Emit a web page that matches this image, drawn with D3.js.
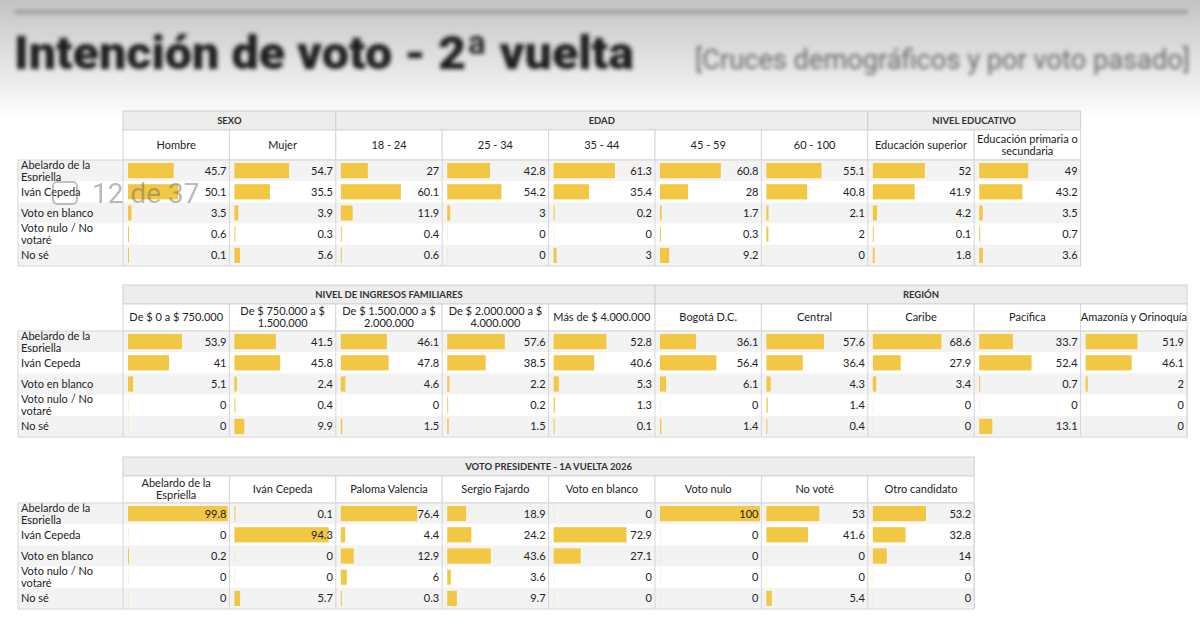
<!DOCTYPE html>
<html><head><meta charset="utf-8">
<script src="https://cdn.jsdelivr.net/npm/d3@7"></script>
<style>
body{margin:0;background:#fff;font-family:Lato,"Open Sans",sans-serif;}
</style></head><body>
<svg id="c" width="1200" height="629"></svg>
<script>
const rows = ["Abelardo de la|Espriella", "Iván Cepeda", "Voto en blanco", "Voto nulo / No|votaré", "No sé"];

const groups1 = [["SEXO", 2], ["EDAD", 5], ["NIVEL EDUCATIVO", 2]];
const cols1 = ["Hombre", "Mujer", "18 - 24", "25 - 34", "35 - 44", "45 - 59", "60 - 100", "Educación superior", "Educación primaria o|secundaria"];
const vals1 = [
  [45.7, 54.7, 27, 42.8, 61.3, 60.8, 55.1, 52, 49],
  [50.1, 35.5, 60.1, 54.2, 35.4, 28, 40.8, 41.9, 43.2],
  [3.5, 3.9, 11.9, 3, 0.2, 1.7, 2.1, 4.2, 3.5],
  [0.6, 0.3, 0.4, 0, 0, 0.3, 2, 0.1, 0.7],
  [0.1, 5.6, 0.6, 0, 3, 9.2, 0, 1.8, 3.6]
];

const groups2 = [["NIVEL DE INGRESOS FAMILIARES", 5], ["REGIÓN", 5]];
const cols2 = ["De $ 0 a $ 750.000", "De $ 750.000 a $|1.500.000", "De $ 1.500.000 a $|2.000.000", "De $ 2.000.000 a $|4.000.000", "Más de $ 4.000.000", "Bogotá D.C.", "Central", "Caribe", "Pacífica", "Amazonía y Orinoquía"];
const vals2 = [
  [53.9, 41.5, 46.1, 57.6, 52.8, 36.1, 57.6, 68.6, 33.7, 51.9],
  [41, 45.8, 47.8, 38.5, 40.6, 56.4, 36.4, 27.9, 52.4, 46.1],
  [5.1, 2.4, 4.6, 2.2, 5.3, 6.1, 4.3, 3.4, 0.7, 2],
  [0, 0.4, 0, 0.2, 1.3, 0, 1.4, 0, 0, 0],
  [0, 9.9, 1.5, 1.5, 0.1, 1.4, 0.4, 0, 13.1, 0]
];

const groups3 = [["VOTO PRESIDENTE - 1A VUELTA 2026", 8]];
const cols3 = ["Abelardo de la|Espriella", "Iván Cepeda", "Paloma Valencia", "Sergio Fajardo", "Voto en blanco", "Voto nulo", "No voté", "Otro candidato"];
const vals3 = [
  [99.8, 0.1, 76.4, 18.9, 0, 100, 53, 53.2],
  [0, 94.3, 4.4, 24.2, 72.9, 0, 41.6, 32.8],
  [0.2, 0, 12.9, 43.6, 27.1, 0, 0, 14],
  [0, 0, 6, 3.6, 0, 0, 0, 0],
  [0, 5.7, 0.3, 9.7, 0, 0, 5.4, 0]
];

const svg = d3.select("#c");
const defs = svg.append("defs");
const g0 = defs.append("linearGradient").attr("id", "bg").attr("x1", 0).attr("y1", 0).attr("x2", 0).attr("y2", 1);
g0.append("stop").attr("offset", 0).attr("stop-color", "#c4c4c4");
g0.append("stop").attr("offset", 1).attr("stop-color", "#ffffff");
defs.append("filter").attr("id", "blur").append("feGaussianBlur").attr("stdDeviation", 2.2);

svg.append("rect").attr("width", 1200).attr("height", 120).attr("fill", "url(#bg)");
const head = svg.append("g").attr("filter", "url(#blur)");
head.append("line").attr("x1", 15).attr("x2", 1188).attr("y1", 12).attr("y2", 12).attr("stroke", "#8a8a8a").attr("stroke-width", 3);
head.append("text").attr("x", 14).attr("y", 69).attr("font-family", "Roboto, sans-serif").attr("font-weight", 900)
  .attr("font-size", 47).attr("fill", "#1a1a1a").attr("textLength", 620).attr("lengthAdjust", "spacingAndGlyphs")
  .text("Intención de voto - 2ª vuelta");
head.append("text").attr("x", 695).attr("y", 69).attr("font-size", 27)
  .attr("fill", "#666").attr("font-family", "Roboto, sans-serif").attr("textLength", 495).attr("lengthAdjust", "spacingAndGlyphs")
  .text("[Cruces demográficos y por voto pasado]");

const colW = 106.4, labX = 18, tabX = 123;
const x = d3.scaleLinear().domain([0, 100]).range([0, 100]);

function lines(sel, txt, xx, yc, anchor, size) {
  const parts = txt.split("|");
  const lh = size + 1;
  parts.forEach((p, i) => {
    sel.append("text").attr("x", xx).attr("y", yc + (i - (parts.length - 1) / 2) * lh + size * 0.36)
      .attr("text-anchor", anchor).attr("font-size", size).attr("fill", "#222").text(p);
  });
}

function table(top, groups, cols, vals, subH) {
  const g = svg.append("g");
  const n = cols.length, right = tabX + n * colW;
  const hH = 19, rowH = 21.2;
  const rowTop = top + hH + subH;
  let c = 0;
  groups.forEach(([name, k]) => {
    g.append("rect").attr("x", tabX + c * colW).attr("y", top).attr("width", k * colW).attr("height", hH)
      .attr("fill", "#ededed").attr("stroke", "#cfcfcf");
    g.append("text").attr("x", tabX + (c + k / 2) * colW).attr("y", top + 13).attr("text-anchor", "middle")
      .attr("font-size", 9.5).attr("font-weight", 700).attr("fill", "#333").text(name);
    c += k;
  });
  cols.forEach((name, i) => {
    g.append("rect").attr("x", tabX + i * colW).attr("y", top + hH).attr("width", colW).attr("height", subH)
      .attr("fill", "#fff").attr("stroke", "#d6d6d6");
    lines(g, name, tabX + (i + 0.5) * colW, top + hH + subH / 2, "middle", 11);
  });
  rows.forEach((r, j) => {
    const y = rowTop + j * rowH;
    g.append("rect").attr("x", labX).attr("y", y).attr("width", right - labX).attr("height", rowH)
      .attr("fill", j % 2 === 0 ? "#f3f3f3" : "#fff");
    lines(g, r, labX + 3, y + rowH / 2, "start", 11);
    g.selectAll(null).data(vals[j]).join("rect")
      .attr("x", (d, i) => tabX + i * colW + 5).attr("y", y + 3)
      .attr("width", d => Math.max(x(d), d > 0 ? 1 : 0.6)).attr("height", rowH - 6)
      .attr("fill", "#f2c744").attr("opacity", d => d > 0 ? 1 : 0.35);
    g.selectAll(null).data(vals[j]).join("text")
      .attr("x", (d, i) => tabX + (i + 1) * colW - 3).attr("y", y + rowH / 2 + 4)
      .attr("text-anchor", "end").attr("font-size", 11).attr("fill", "#222").text(d => d);
  });
  g.append("rect").attr("x", labX).attr("y", rowTop).attr("width", right - labX).attr("height", rowH * 5)
    .attr("fill", "none").attr("stroke", "#d6d6d6");
  d3.range(n + 1).forEach(i => g.append("line").attr("x1", tabX + i * colW).attr("x2", tabX + i * colW)
    .attr("y1", rowTop).attr("y2", rowTop + rowH * 5).attr("stroke", "#d6d6d6"));
}

table(111, groups1, cols1, vals1, 30);
table(285, groups2, cols2, vals2, 27);
table(457, groups3, cols3, vals3, 27);

const wm = svg.append("g").attr("opacity", 0.45);
wm.append("rect").attr("x", 53).attr("y", 182).attr("width", 24).attr("height", 22).attr("rx", 4)
  .attr("fill", "none").attr("stroke", "#777").attr("stroke-width", 2);
wm.append("text").attr("x", 92).attr("y", 203).attr("font-size", 28).attr("fill", "#666")
  .attr("font-family", "Roboto, sans-serif").text("12 de 37");
</script></body></html>
